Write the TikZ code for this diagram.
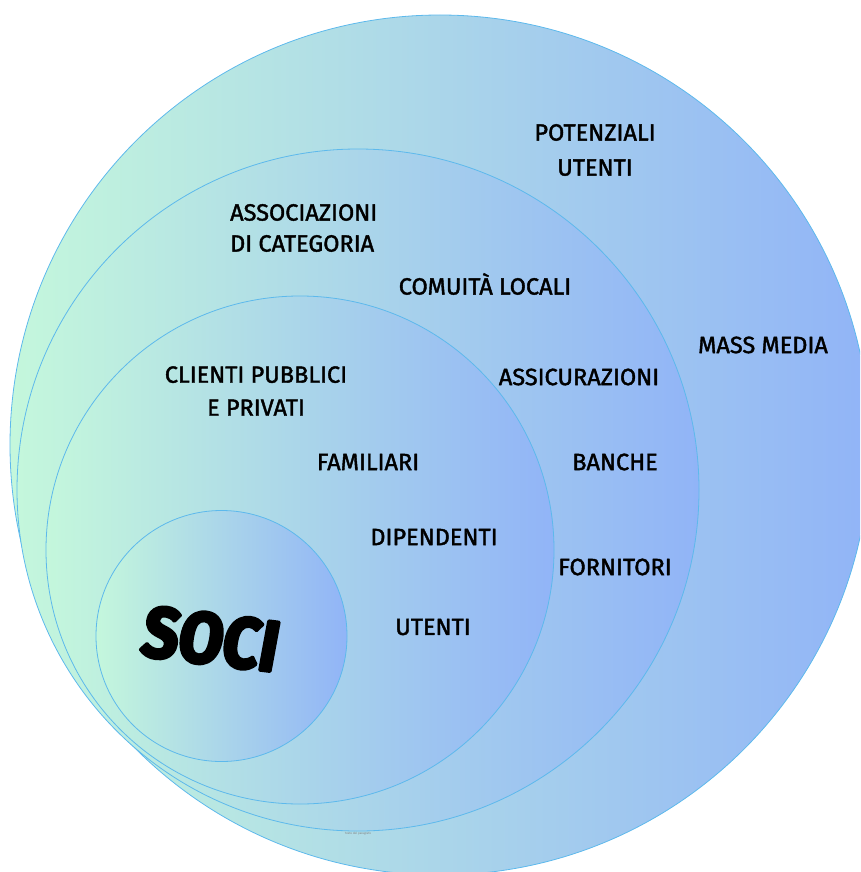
\documentclass[tikz,border=0pt]{standalone}
\usepackage{fontspec}
\setmainfont{Fira Sans}
\newcommand{\strk}[2]{\special{pdf:code q 2 Tr #1 w 1 j}#2\special{pdf:code Q}}
\begin{document}
\begin{tikzpicture}[x=1pt,y=-1pt,
  ring/.style={draw=ringline,line width=0.8pt,left color=mintl,right color=bluer,shading angle=90},
  lab/.style={font=\fontsize{23.5}{33}\selectfont,text=black,align=center,inner sep=0pt},
  labl/.style={lab,align=left}]
\definecolor{mintl}{HTML}{C4F7DC}
\definecolor{bluer}{HTML}{91B4F7}
\definecolor{ringline}{HTML}{5DB9EC}
\useasboundingbox (0,0) rectangle (860,872);
\clip (0,0) rectangle (860,872);
\path[ring] (440,445) circle[radius=430];
\path[ring] (358,490) circle[radius=341];
\path[ring] (300,550) circle[radius=254];
\path[ring] (221.5,636) circle[radius=125.5];
\node[lab,font=\fontsize{23.5}{35}\selectfont] (pot) at (595,150) {\strk{0.4}{POTENZIALI}\\\strk{0.4}{UTENTI}};
\node[labl,anchor=west,font=\fontsize{23.5}{31}\selectfont] (ass) at (230,228) {\strk{0.4}{ASSOCIAZIONI}\\\strk{0.4}{DI CATEGORIA}};
\node[lab] (com) at (485,284) {\strk{0.4}{COMUITÀ LOCALI}};
\node[lab] (mm) at (763,345) {\strk{0.4}{MASS MEDIA}};
\node[lab] (cli) at (256,391) {\strk{0.4}{CLIENTI PUBBLICI}\\\strk{0.4}{E PRIVATI}};
\node[lab] (assic) at (579,377) {\strk{0.4}{ASSICURAZIONI}};
\node[lab] (fam) at (368,462) {\strk{0.4}{FAMILIARI}};
\node[lab] (ban) at (615,462) {\strk{0.4}{BANCHE}};
\node[lab] (dip) at (434,537) {\strk{0.4}{DIPENDENTI}};
\node[lab] (forn) at (615,567) {\strk{0.4}{FORNITORI}};
\node[lab] (ute) at (433,627) {\strk{0.4}{UTENTI}};
\node[inner sep=0pt,rotate=-7,xslant=0.06,yscale=1.12,font=\bfseries\fontsize{64}{64}\selectfont] (soci) at (211,639) {\strk{3}{SOCI}};
\node[inner sep=0pt,font=\fontsize{3}{3}\selectfont,text=gray] (tiny) at (358,834) {Testo del paragrafo};
\end{tikzpicture}
\end{document}
